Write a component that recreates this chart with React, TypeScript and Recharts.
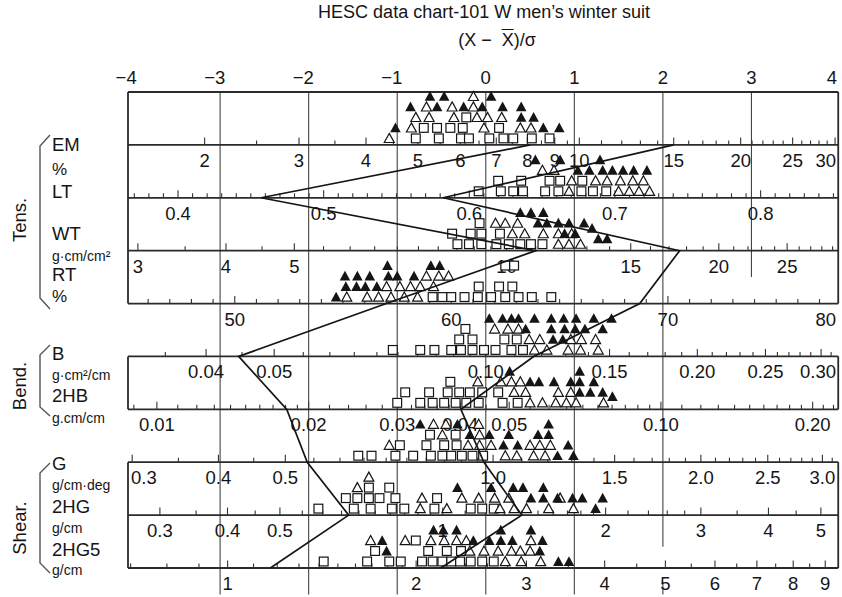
import React from 'react';
import { ScatterChart, Scatter, XAxis, YAxis, ReferenceLine } from 'recharts';

const FONT = '"Liberation Sans", Arial, Helvetica, sans-serif';
const INK = '#151515';

const CHART_W = 842;
const CHART_H = 597;
const PLOT_TOP = 92;
const PLOT_BOTTOM = 568;
const ROW_PX = (PLOT_BOTTOM - PLOT_TOP) / 9;
const BOX_LEFT_PX = 128;
const BOX_RIGHT_PX = 838;

// common (X − X̄)/σ axis
const sigmaTicks = [-4, -3, -2, -1, 0, 1, 2, 3, 4];
const SIGMA_MIN = -4.04;
const SIGMA_MAX = 4.0;
const BOX_RIGHT = 3.98;

// population mean and SD of each property (log10 of the value where log: true)
const emScale = { log: true, mean: 0.8255, sd: 0.1652 };
const ltScale = { log: false, mean: 0.6113, sd: 0.0608 };
const wtScale = { log: true, mean: 0.9705, sd: 0.1256 };
const rtScale = { log: false, mean: 61.59, sd: 4.089 };
const bScale = { log: true, mean: -1.0, sd: 0.126 };
const hbScale = { log: true, mean: -1.3475, sd: 0.1757 };
const gScale = { log: true, mean: -0.0106, sd: 0.1283 };
const hgScale = { log: true, mean: 0.0795, sd: 0.1637 };
const h5Scale = { log: true, mean: 0.4122, sd: 0.1414 };

// printed scale numbers
const emLabels = ['2', '3', '4', '5', '6', '7', '8', '9', '10', '15', '20', '25', '30'];
const ltLabels = ['0.4', '0.5', '0.6', '0.7', '0.8'];
const wtLabels = ['3', '4', '5', '10', '15', '20', '25'];
const rtLabels = ['50', '60', '70', '80'];
const bLabels = ['0.04', '0.05', '0.10', '0.15', '0.20', '0.25', '0.30'];
const hbLabels = ['0.01', '0.02', '0.03', '0.04', '0.05', '0.10', '0.20'];
const gLabels = ['0.3', '0.4', '0.5', '1.0', '1.5', '2.0', '2.5', '3.0'];
const hgLabels = ['0.3', '0.4', '0.5', '1', '2', '3', '4', '5'];
const h5Labels = ['1', '2', '3', '4', '5', '6', '7', '8', '9'];

function steps(a: number, b: number, d: number): number[] {
  const out: number[] = [];
  const n = Math.round((b - a) / d);
  for (let i = 0; i <= n; i++) out.push(+(a + i * d).toFixed(6));
  return out;
}

// minor graduations along each scale line
const emTicks = [...steps(2, 10, 0.5), ...steps(11, 30, 1)];
const ltTicks = steps(0.37, 0.85, 0.01);
const wtTicks = [...steps(3, 10, 0.5), ...steps(11, 29, 1)];
const rtTicks = steps(46, 77, 1);
const bTicks = [...steps(0.035, 0.1, 0.005), ...steps(0.11, 0.31, 0.01)];
const hbTicks = [...steps(0.009, 0.02, 0.001), ...steps(0.022, 0.04, 0.002), ...steps(0.045, 0.1, 0.005), ...steps(0.11, 0.22, 0.01)];
const gTicks = [...steps(0.3, 1.0, 0.05), ...steps(1.1, 3.1, 0.1)];
const hgTicks = [...steps(0.3, 1.0, 0.05), ...steps(1.1, 2.0, 0.1), ...steps(2.2, 3.0, 0.2), ...steps(3.5, 5.5, 0.5)];
const h5Ticks = [...steps(0.7, 2.0, 0.1), ...steps(2.2, 3.0, 0.2), ...steps(3.5, 9.0, 0.5)];

// suit samples: [(X − X̄)/σ, stack position] — ▲ solid, △ open, □ square
const emSolid = [[-0.63, 4], [-0.47, 4], [0.06, 4], [-0.85, 3], [-0.55, 3], [-0.25, 3], [-0.04, 3], [0.19, 3], [0.4, 3], [0.4, 2], [0.54, 2], [-1.02, 1], [0.65, 1], [0.83, 1]];
const emOpen = [[-0.14, 4], [-0.67, 3], [-0.38, 3], [-0.14, 3], [-0.79, 2], [-0.64, 2], [-0.36, 2], [-0.1, 2], [0.02, 2], [0.18, 2], [-0.84, 1], [-0.02, 1], [0.39, 1], [0.51, 1], [-1.09, 0]];
const emSquare = [[-0.22, 2], [-0.7, 1], [-0.55, 1], [-0.4, 1], [-0.26, 1], [0.15, 1], [-0.79, 0], [-0.53, 0], [-0.28, 0], [-0.19, 0], [0.04, 0], [0.2, 0], [0.31, 0], [0.52, 0], [0.72, 0]];

const ltSolid = [[0.56, 3], [0.84, 3], [1.29, 3], [1.04, 2], [1.17, 2], [1.32, 2], [1.43, 2], [1.55, 2], [1.67, 2], [1.82, 2]];
const ltOpen = [[0.64, 2], [0.77, 2], [0.97, 1], [1.24, 1], [1.37, 1], [1.52, 1], [1.66, 1], [1.78, 1], [0.94, 0], [1.5, 0], [1.62, 0], [1.73, 0], [1.85, 0]];
const ltSquare = [[0.14, 1], [0.4, 1], [0.72, 1], [0.84, 1], [1.09, 1], [-0.08, 0], [0.17, 0], [0.31, 0], [0.42, 0], [0.67, 0], [0.82, 0], [1.08, 0], [1.21, 0], [1.36, 0]];

const wtSolid = [[0.39, 3], [0.51, 3], [0.65, 3], [0.59, 2], [0.69, 2], [0.82, 2], [0.94, 2], [1.11, 2], [0.89, 1], [1.01, 1], [1.2, 1.5], [1.27, 0.5], [1.37, 0.5]];
const wtOpen = [[0.11, 2], [0.22, 2], [0.36, 2], [0.3, 1], [0.44, 1], [0.65, 1], [0.82, 1], [0.97, 1], [0.82, 0], [0.94, 0], [1.07, 0]];
const wtSquare = [[-0.07, 2], [-0.38, 1], [-0.17, 1], [-0.05, 1], [0.16, 1], [-0.32, 0], [-0.19, 0], [-0.05, 0], [0.12, 0], [0.26, 0], [0.39, 0], [0.51, 0], [0.64, 0]];

const rtSolid = [[-1.11, 3], [-0.62, 3], [-0.52, 3], [-1.59, 2], [-1.45, 2], [-1.31, 2], [-1.1, 2], [-1.0, 2], [-0.81, 2], [-1.58, 1], [-1.46, 1], [-1.36, 1], [-1.23, 1], [-1.69, 0]];
const rtOpen = [[-0.67, 2], [-0.53, 2], [-0.42, 2], [-1.12, 1], [-0.97, 1], [-0.85, 1], [-0.74, 1], [-0.59, 1], [-1.57, 0], [-1.34, 0], [-1.21, 0], [-1.07, 0], [-0.92, 0], [-0.77, 0]];
const rtSquare = [[0.22, 3], [0.32, 3], [-0.08, 1], [0.15, 1], [0.3, 1], [-0.6, 0], [-0.49, 0], [-0.39, 0], [-0.24, 0], [-0.09, 0], [0.06, 0], [0.22, 0], [0.37, 0], [0.52, 0], [0.74, 0]];

const bSolid = [[0.04, 3], [0.19, 3], [0.29, 3], [0.37, 3], [0.55, 3], [0.74, 3], [0.88, 3], [1.02, 3], [1.22, 3], [1.42, 3], [0.45, 2], [0.74, 2], [0.89, 2], [1.01, 2], [1.12, 2], [1.32, 2], [0.76, 1], [0.87, 1]];
const bOpen = [[0.1, 2], [0.25, 2], [0.37, 2], [0.49, 1], [0.61, 1], [0.96, 1], [1.08, 1], [1.24, 1], [0.55, 0], [0.69, 0], [0.93, 0], [1.07, 0], [1.27, 0]];
const bSquare = [[-0.23, 2], [-0.3, 1], [-0.15, 1], [0.21, 1], [0.35, 1], [-1.05, 0], [-0.74, 0], [-0.58, 0], [-0.39, 0], [-0.28, 0], [-0.15, 0], [-0.02, 0], [0.11, 0], [0.29, 0], [0.42, 0]];

const hbSolid = [[0.27, 3], [1.06, 3], [0.5, 2], [0.6, 2], [0.77, 2], [0.96, 2], [1.06, 2], [1.22, 2], [1.06, 1], [1.18, 1], [1.32, 1], [1.43, 0.6]];
const hbOpen = [[-0.09, 2], [0.17, 2], [0.29, 2], [0.39, 2], [0.32, 1], [0.45, 1], [0.82, 1], [0.96, 1], [0.5, 0], [0.64, 0], [0.79, 0], [0.91, 0], [1.02, 0], [1.33, 0]];
const hbSquare = [[-0.4, 2], [-0.91, 1], [-0.64, 1], [-0.43, 1], [-0.3, 1], [-0.18, 1], [-0.04, 1], [0.14, 1], [-1.0, 0], [-0.74, 0], [-0.6, 0], [-0.47, 0], [-0.34, 0], [-0.22, 0], [-0.08, 0], [0.19, 0], [0.36, 0]];

const gSolid = [[-0.74, 3], [-0.32, 3], [0.71, 3], [-0.18, 2], [0.04, 2], [0.26, 2], [0.59, 2], [0.71, 2], [0.2, 1], [0.36, 1], [0.93, 1], [0.81, 0], [0.99, 0]];
const gOpen = [[-0.59, 3], [-0.45, 3], [-0.08, 3], [-0.49, 2], [-0.07, 2], [-1.09, 1], [-0.2, 1], [-0.07, 1], [0.06, 1], [0.5, 1], [0.61, 1], [0.73, 1], [0.22, 0], [0.35, 0], [0.54, 0], [0.67, 0]];
const gSquare = [[-0.63, 2], [-0.34, 2], [-0.97, 1], [-0.67, 1], [-0.47, 1], [-0.33, 1], [-1.44, 0], [-1.29, 0], [-1.02, 0], [-0.82, 0], [-0.62, 0], [-0.49, 0], [-0.39, 0], [-0.27, 0], [-0.15, 0], [-0.03, 0]];

const hgSolid = [[-0.32, 2], [0.06, 2], [0.31, 2], [0.42, 2], [0.65, 2], [0.51, 1], [0.65, 1], [0.81, 1], [0.98, 1], [1.09, 1], [1.32, 1], [1.24, 0]];
const hgOpen = [[-1.32, 3], [-1.45, 2], [-0.72, 1], [-0.27, 1], [-0.08, 1], [0.1, 1], [0.26, 1], [0.84, 1], [-0.74, 0], [-0.44, 0], [0.16, 0], [0.32, 0], [0.46, 0], [0.71, 0], [0.99, 0]];
const hgSquare = [[-1.32, 2], [-1.09, 2], [-1.58, 1], [-1.45, 1], [-1.32, 1], [-1.2, 1], [-1.02, 1], [-0.55, 1], [-1.89, 0], [-1.49, 0], [-1.3, 0], [-1.06, 0], [-0.92, 0], [-0.58, 0], [-0.17, 0], [-0.04, 0], [0.09, 0]];

const h5Solid = [[-0.59, 3], [-0.48, 3], [-0.33, 3], [0.17, 3], [0.51, 3], [-1.17, 2], [-0.14, 2], [0.04, 2], [0.17, 2], [0.3, 2], [0.64, 2], [-1.12, 1], [0.61, 1], [0.82, 0], [0.94, 0]];
const h5Open = [[-1.3, 2], [-0.91, 2], [-0.62, 2], [-0.47, 2], [-0.33, 2], [-0.22, 2], [0.51, 2], [-0.18, 1], [-0.02, 1], [0.14, 1], [0.29, 1], [0.39, 1], [0.5, 1], [0.22, 0], [0.4, 0], [0.62, 0]];
const h5Square = [[-0.79, 2], [-1.25, 1], [-0.65, 1], [-0.44, 1], [-0.28, 1], [-1.83, 0], [-1.34, 0], [-1.09, 0], [-0.96, 0], [-0.72, 0], [-0.6, 0], [-0.49, 0], [-0.39, 0], [-0.29, 0], [-0.17, 0], [-0.04, 0], [0.09, 0]];

// two profile lines, values in row order EM, LT, WT, RT, B, 2HB, G, 2HG, 2HG5
const profileA = [8.1, 0.457, 11.0, 57.0, 0.0445, 0.0181, 0.538, 0.67, 1.17];
const profileB = [15.0, 0.582, 17.6, 68.7, 0.117, 0.0401, 0.97, 1.4, 2.19];

type Scale = { log: boolean; mean: number; sd: number };
const toSigma = (s: Scale, v: number) => ((s.log ? Math.log10(v) : v) - s.mean) / s.sd;

const rows = [
  { scale: emScale, labels: emLabels, ticks: emTicks, solid: emSolid, open: emOpen, square: emSquare },
  { scale: ltScale, labels: ltLabels, ticks: ltTicks, solid: ltSolid, open: ltOpen, square: ltSquare },
  { scale: wtScale, labels: wtLabels, ticks: wtTicks, solid: wtSolid, open: wtOpen, square: wtSquare },
  { scale: rtScale, labels: rtLabels, ticks: rtTicks, solid: rtSolid, open: rtOpen, square: rtSquare },
  { scale: bScale, labels: bLabels, ticks: bTicks, solid: bSolid, open: bOpen, square: bSquare },
  { scale: hbScale, labels: hbLabels, ticks: hbTicks, solid: hbSolid, open: hbOpen, square: hbSquare },
  { scale: gScale, labels: gLabels, ticks: gTicks, solid: gSolid, open: gOpen, square: gSquare },
  { scale: hgScale, labels: hgLabels, ticks: hgTicks, solid: hgSolid, open: hgOpen, square: hgSquare },
  { scale: h5Scale, labels: h5Labels, ticks: h5Ticks, solid: h5Solid, open: h5Open, square: h5Square },
];
const baseOf = (i: number) => 8 - i;
const STACK_FIRST = 6.5;
const STACK_STEP = 10.5;
const stackY = (base: number, level: number) => base + (STACK_FIRST + STACK_STEP * level) / ROW_PX;

const pointsOf = (key: 'solid' | 'open' | 'square') =>
  rows.flatMap((r, i) => r[key].map(([s, lv]) => ({ x: s, y: stackY(baseOf(i), lv) })));
const solidData = pointsOf('solid');
const openData = pointsOf('open');
const squareData = pointsOf('square');

const tickData = rows.flatMap((r, i) =>
  r.ticks
    .map((v) => ({
      x: toSigma(r.scale, v),
      y: baseOf(i),
      major: r.labels.some((l) => Math.abs(parseFloat(l) - v) < 1e-9),
    }))
    .filter((t) => t.x > SIGMA_MIN + 0.02 && t.x < BOX_RIGHT - 0.01)
);

const labelData = rows.flatMap((r, i) =>
  r.labels.map((l) => ({
    x: Math.max(SIGMA_MIN, Math.min(SIGMA_MAX, toSigma(r.scale, parseFloat(l)))),
    y: baseOf(i),
    text: l,
  }))
);

const profileData = (vals: number[]) => rows.map((r, i) => ({ x: toSigma(r.scale, vals[i]), y: baseOf(i) }));
const lineA = profileData(profileA);
const lineB = profileData(profileB);

// frame: horizontal scale lines, box sides, vertical σ grid
const hLines = [0, 1, 2, 3, 4, 5, 6, 7, 8, 9];
const boxSides = [[5, 9], [3, 4], [0, 2]];
const gridSpans = [[-3, 9, -0.5], [-2, 9, -0.5], [-1, 9, -0.5], [0, 9, -0.5], [1, 9, -0.5], [2, 9, 0.4], [2, -0.26, -0.5], [3, 9, 5.5]];

const LABEL_FS = 18.5;

const SolidTriangle = (p: any) => (
  <path d={`M${p.cx},${p.cy - 5.3} L${p.cx + 5.3},${p.cy + 4.4} L${p.cx - 5.3},${p.cy + 4.4} Z`} fill={INK} />
);
const OpenTriangle = (p: any) => (
  <path d={`M${p.cx},${p.cy - 5} L${p.cx + 5},${p.cy + 4.1} L${p.cx - 5},${p.cy + 4.1} Z`} fill="#fff" stroke={INK} strokeWidth={1.2} />
);
const OpenSquare = (p: any) => (
  <rect x={p.cx - 4.4} y={p.cy - 4.4} width={8.8} height={8.8} fill="#fff" stroke={INK} strokeWidth={1.2} />
);
const TickMark = (p: any) => (
  <line x1={p.cx} x2={p.cx} y1={p.cy} y2={p.cy - (p.payload.major ? 7.5 : 4.5)} stroke="#333" strokeWidth={1.1} />
);
const ScaleLabel = (p: any) => {
  const text: string = p.payload.text;
  const w = text.split('').reduce((s, c) => s + (c === '.' ? 0.278 : 0.556), 0) * LABEL_FS;
  let x = p.cx;
  let anchor: 'middle' | 'start' | 'end' = 'middle';
  if (p.cx + w / 2 > BOX_RIGHT_PX - 2) {
    x = BOX_RIGHT_PX - 2;
    anchor = 'end';
  } else if (p.cx - w / 2 < BOX_LEFT_PX + 3) {
    x = BOX_LEFT_PX + 3;
    anchor = 'start';
  }
  return (
    <text x={x} y={p.cy + 22} textAnchor={anchor} fontSize={LABEL_FS} fontFamily={FONT} fill={INK}>
      {text}
    </text>
  );
};
const Nothing = () => <g />;

const TopTick = (p: any) => {
  const v = p.payload.value as number;
  const x = Math.min(p.x, 832);
  const digitHalf = 0.278 * LABEL_FS;
  return v < 0 ? (
    <text x={x + digitHalf} y={84} textAnchor="end" fontSize={LABEL_FS} fontFamily={FONT} fill={INK}>{`\u2212${-v}`}</text>
  ) : (
    <text x={x} y={84} textAnchor="middle" fontSize={LABEL_FS} fontFamily={FONT} fill={INK}>{`${v}`}</text>
  );
};

// left-hand group titles, brackets and property names
const groups = [
  { title: 'Tens.', y: 220, br: [135, 146, 298, 309] },
  { title: 'Bend.', y: 386, br: [345, 355, 407, 416] },
  { title: 'Shear.', y: 528, br: [463, 473, 563, 573] },
];
const sideTexts: [string, number, number][] = [
  ['EM', 144, 18.5], ['%', 169, 17], ['LT', 191, 18.5], ['WT', 233, 18.5], ['g·cm/cm²', 256, 14], ['RT', 274, 18.5], ['%', 296, 17],
  ['B', 353, 18.5], ['g·cm²/cm', 375, 14], ['2HB', 395, 18.5], ['g.cm/cm', 418, 14],
  ['G', 463, 18.5], ['g/cm·deg', 485, 14], ['2HG', 506, 18.5], ['g/cm', 528, 14], ['2HG5', 549, 18.5], ['g/cm', 570, 14],
];

export default function App() {
  return (
    <div style={{ position: 'absolute', left: 0, top: 0, width: CHART_W, height: CHART_H, background: '#fff', fontFamily: FONT, color: INK }}>
      <div style={{ position: 'absolute', left: 0, top: 2, width: 968, textAlign: 'center', fontSize: 18, lineHeight: '21px' }}>
        HESC data chart-101 W men’s winter suit
      </div>
      <div style={{ position: 'absolute', left: 0, top: 30, width: 994, textAlign: 'center', fontSize: 18, lineHeight: '21px' }}>
        (X −{'\u00a0\u00a0'}<span style={{ textDecoration: 'overline' }}>X</span>)/σ
      </div>

      <div style={{ position: 'absolute', left: 0, top: 0 }}>
        <ScatterChart width={CHART_W} height={CHART_H} margin={{ top: PLOT_TOP - 30, right: 2, bottom: CHART_H - PLOT_BOTTOM, left: BOX_LEFT_PX }}>
          <XAxis
            type="number"
            dataKey="x"
            orientation="top"
            height={30}
            domain={[SIGMA_MIN, SIGMA_MAX]}
            ticks={sigmaTicks}
            interval={0}
            tickLine={false}
            axisLine={false}
            tick={TopTick}
          />
          <YAxis type="number" dataKey="y" domain={[0, 9]} hide />

          {gridSpans.map(([s, y1, y2], i) => (
            <ReferenceLine key={`g${i}`} segment={[{ x: s, y: y1 }, { x: s, y: y2 }]} stroke="#444" strokeWidth={1.1} ifOverflow="visible" />
          ))}
          {hLines.map((y) => (
            <ReferenceLine key={`h${y}`} segment={[{ x: SIGMA_MIN, y }, { x: BOX_RIGHT, y }]} stroke="#2a2a2a" strokeWidth={1.8} ifOverflow="visible" />
          ))}
          {boxSides.flatMap(([a, b], i) => [
            <ReferenceLine key={`l${i}`} segment={[{ x: SIGMA_MIN, y: a }, { x: SIGMA_MIN, y: b }]} stroke="#2a2a2a" strokeWidth={1.8} ifOverflow="visible" />,
            <ReferenceLine key={`r${i}`} segment={[{ x: BOX_RIGHT, y: a }, { x: BOX_RIGHT, y: b }]} stroke="#2a2a2a" strokeWidth={1.8} ifOverflow="visible" />,
          ])}

          <Scatter data={tickData} shape={TickMark} isAnimationActive={false} legendType="none" />
          <Scatter data={labelData} shape={ScaleLabel} isAnimationActive={false} legendType="none" />
          <Scatter data={squareData} shape={OpenSquare} isAnimationActive={false} legendType="none" />
          <Scatter data={openData} shape={OpenTriangle} isAnimationActive={false} legendType="none" />
          <Scatter data={solidData} shape={SolidTriangle} isAnimationActive={false} legendType="none" />
          <Scatter data={lineA} shape={Nothing} line={{ stroke: INK, strokeWidth: 1.7 }} isAnimationActive={false} legendType="none" />
          <Scatter data={lineB} shape={Nothing} line={{ stroke: INK, strokeWidth: 1.7 }} isAnimationActive={false} legendType="none" />
        </ScatterChart>
      </div>

      <svg width={CHART_W} height={CHART_H} style={{ position: 'absolute', left: 0, top: 0, pointerEvents: 'none' }}>
        {groups.map((g) => (
          <g key={g.title}>
            <text
              x={19}
              y={g.y}
              transform={`rotate(-90 19 ${g.y})`}
              textAnchor="middle"
              dominantBaseline="central"
              fontSize={18.5}
              fontFamily={FONT}
              fill={INK}
            >
              {g.title}
            </text>
            <path d={`M50,${g.br[0]} L40,${g.br[1]} L40,${g.br[2]} L50,${g.br[3]}`} fill="none" stroke="#555" strokeWidth={1.4} />
          </g>
        ))}
        {sideTexts.map(([t, y, fs], i) => (
          <text key={i} x={52} y={y} dominantBaseline="central" fontSize={fs} fontFamily={FONT} fill={INK}>
            {t}
          </text>
        ))}
      </svg>
    </div>
  );
}
